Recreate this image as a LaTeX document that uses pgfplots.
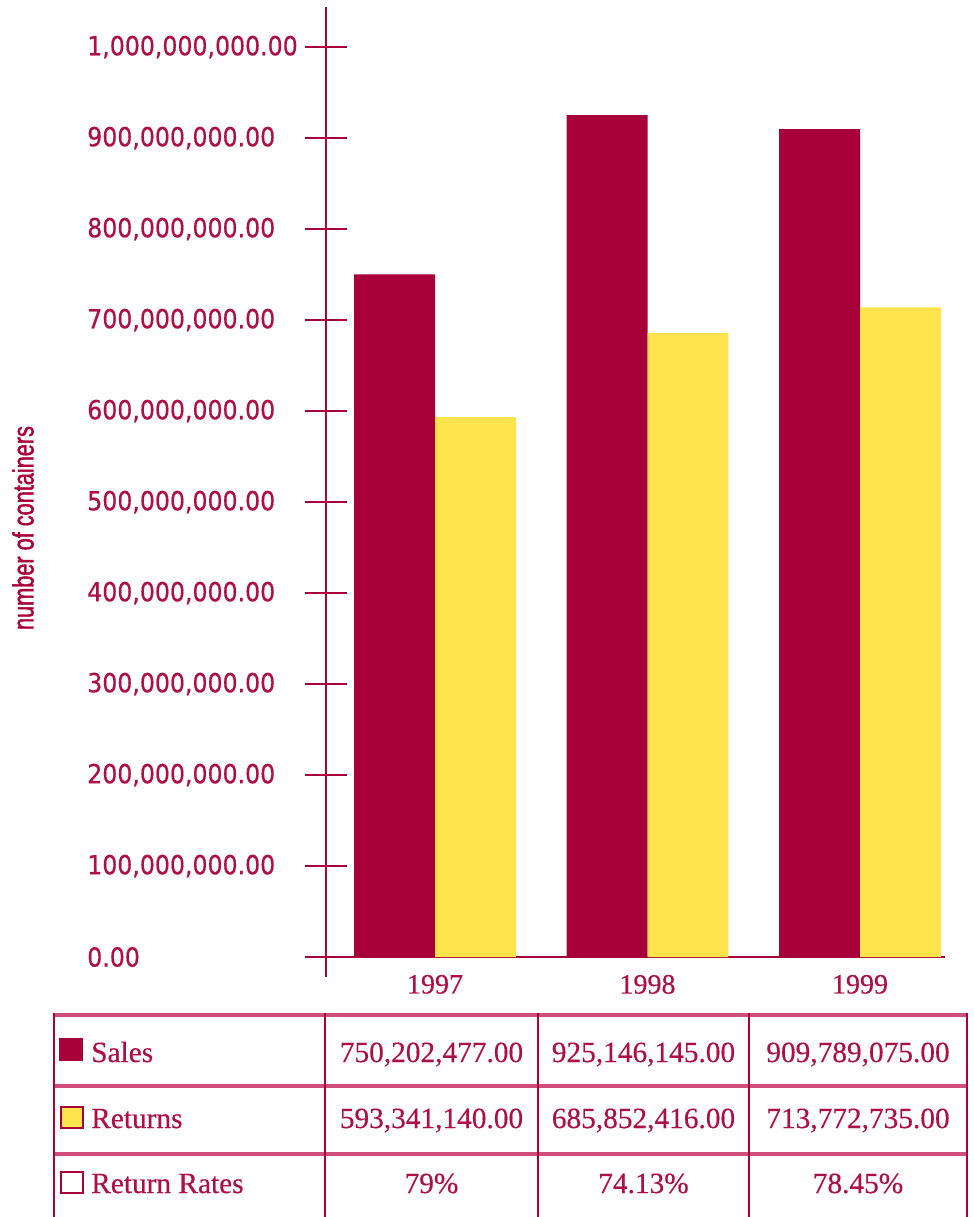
\documentclass[border=0pt]{standalone}
\usepackage{pgfplots}
\pgfplotsset{compat=1.18}
\usepackage{fontspec}
\setmainfont{Liberation Serif}[FakeBold=0.4]
\newfontfamily\tickfont[FakeStretch=0.9,FakeBold=0.6]{DejaVu Sans}
\newfontfamily\labfont[FakeStretch=0.74,FakeBold=1.4]{Liberation Sans}
\definecolor{barred}{RGB}{168,0,56}
\definecolor{baryel}{RGB}{255,228,77}
\definecolor{txtred}{RGB}{172,16,70}
\definecolor{linepink}{RGB}{208,78,122}
\begin{document}
\begin{tikzpicture}[x=0.75pt,y=-0.75pt]
\useasboundingbox (0,0) rectangle (974,1217);
\begin{axis}[
  at={(244.5pt,-717.75pt)}, anchor=south west,
  scale only axis, width=464.25pt, height=712.5pt,
  xmin=-0.513, xmax=2.4, ymin=0, ymax=1.044e9,
  ybar=0pt, bar width=0.381,
  axis lines=left,
  axis line style={-, draw=barred, line width=1.5pt},
  x axis line style={shorten <=-12pt},
  y axis line style={shorten <=-15pt},
  xtick={0,1,2}, xticklabels={1997,1998,1999},
  xtick style={draw=none},
  xticklabel style={font=\fontsize{21}{22}\selectfont, text=txtred, anchor=north, inner sep=0pt, yshift=2.5pt},
  ytick={0,100000000,200000000,300000000,400000000,500000000,600000000,700000000,800000000,900000000,1000000000},
  scaled y ticks=false,
  tick align=center, major tick length=31.5pt,
  ytick style={draw=barred, line width=1.6pt},
  yticklabel style={font=\tickfont\fontsize{19.7}{21}\selectfont, text=txtred, anchor=west, inner sep=0pt, xshift=-163.5pt,
    /pgf/number format/.cd, fixed, fixed zerofill, precision=2, 1000 sep={,}, assume math mode=true},
  ylabel={number of containers},
  every axis y label/.style={at={(rel axis cs:-0.4895,0.4516)}, rotate=90, anchor=center, font=\labfont\fontsize{22}{23}\selectfont, text=barred},
]
\addplot[fill=barred, draw=none] coordinates {(0,750202477) (1,925146145) (2,909789075)};
\addplot[fill=baryel, draw=none] coordinates {(0,593341140) (1,685852416) (2,713772735)};
\end{axis}
% data table
\foreach \yy in {1015,1086,1154} {\draw[linepink, line width=3pt] (54,\yy) -- (967,\yy);}
\foreach \xx in {54,325,538,749,967} {\draw[barred, line width=1.5pt] (\xx,1013) -- (\xx,1217);}
\fill[barred] (59,1038) rectangle (83,1061);
\filldraw[fill=baryel, draw=barred, line width=1.5pt] (61,1107) rectangle (83,1128);
\draw[barred, line width=1.2pt] (61,1172) rectangle (83,1193);
\begin{scope}[every node/.style={inner sep=0pt, text=txtred, font=\fontsize{22}{24}\selectfont}]
\node[anchor=base west] at (91,1062) {Sales};
\node[anchor=base west] at (91,1128) {Returns};
\node[anchor=base west] at (91,1193) {Return Rates};
\node[anchor=base] at (431.5,1062) {750,202,477.00};
\node[anchor=base] at (643.5,1062) {925,146,145.00};
\node[anchor=base] at (858,1062) {909,789,075.00};
\node[anchor=base] at (431.5,1128) {593,341,140.00};
\node[anchor=base] at (643.5,1128) {685,852,416.00};
\node[anchor=base] at (858,1128) {713,772,735.00};
\node[anchor=base] at (431.5,1193) {79\%};
\node[anchor=base] at (643.5,1193) {74.13\%};
\node[anchor=base] at (858,1193) {78.45\%};
\end{scope}
\end{tikzpicture}
\end{document}
